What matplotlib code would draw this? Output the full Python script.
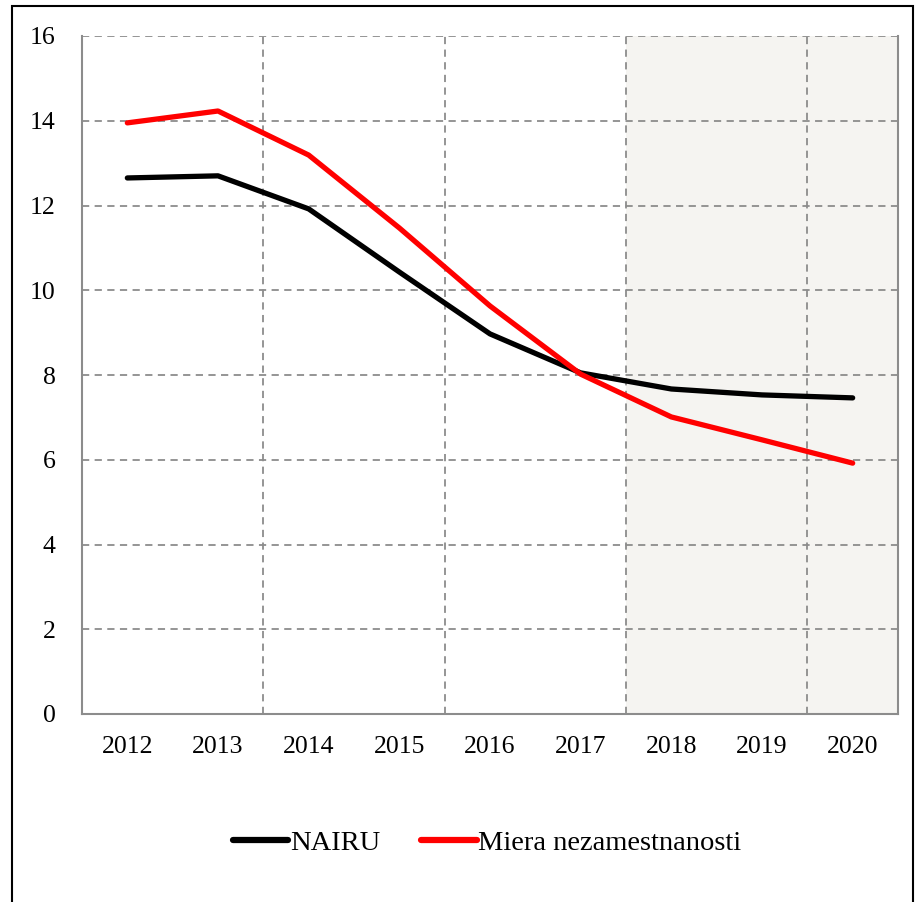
import matplotlib
matplotlib.use("Agg")
import matplotlib.pyplot as plt
from matplotlib.patches import Rectangle

years = ["2012", "2013", "2014", "2015", "2016", "2017", "2018", "2019", "2020"]
nairu = [12.65, 12.70, 11.92, 10.43, 8.97, 8.05, 7.67, 7.53, 7.46]
unemployment = [13.95, 14.23, 13.19, 11.47, 9.63, 8.02, 7.01, 6.47, 5.92]
yticks = [0, 2, 4, 6, 8, 10, 12, 14, 16]
forecast_start = 6  # index of 2018

plt.rcParams['font.family'] = ['Liberation Serif', 'DejaVu Serif']

W, H = 915, 902
fig = plt.figure(figsize=(W / 100, H / 100), dpi=100)
ax = fig.add_axes([82 / W, 1 - 714 / H, (898 - 82) / W, (714 - 36) / H])

x = list(range(len(years)))
ax.axvspan(forecast_start - 0.5, len(years) - 0.5, color="#f5f4f1", zorder=0, lw=0)

grid_kw = dict(color="#8c8c8c", lw=1.3, ls=(0, (4, 3)), zorder=1)
for v in yticks[1:]:
    ax.axhline(v, **grid_kw)
for b in [1.5, 3.5, 5.5, 7.5]:
    ax.axvline(b, **grid_kw)

ax.plot(x, nairu, color="black", lw=3.8, solid_capstyle="round", label="NAIRU", zorder=3)
ax.plot(x, unemployment, color="#ff0000", lw=3.8, solid_capstyle="round",
        label="Miera nezamestnanosti", zorder=3)

ax.set_xlim(-0.5, len(years) - 0.5)
ax.set_ylim(0, 16)
ax.set_yticks(yticks)
ax.set_xticks(x)
ax.set_xticklabels(years)
ax.tick_params(axis="both", length=0, labelsize=18.5)
ax.tick_params(axis="y", pad=19)
ax.tick_params(axis="x", pad=16)

for s in ["left", "bottom", "right"]:
    ax.spines[s].set_color("#8c8c8c")
    ax.spines[s].set_linewidth(1.5)
ax.spines["top"].set_visible(False)

leg = fig.legend(loc="center", bbox_to_anchor=(487 / W, 1 - 843 / H), ncol=2,
                 frameon=False, fontsize=20.5, handlelength=1.95, handletextpad=0.05,
                 columnspacing=1.45)
for l in leg.get_lines():
    l.set_linewidth(4.5)

fig.patches.append(Rectangle((12 / W, -0.01), (913 - 12) / W, (1 - 6 / H) + 0.01,
                             transform=fig.transFigure, fill=False, ec="black", lw=1.5))

fig.savefig("out.png", dpi=100)
